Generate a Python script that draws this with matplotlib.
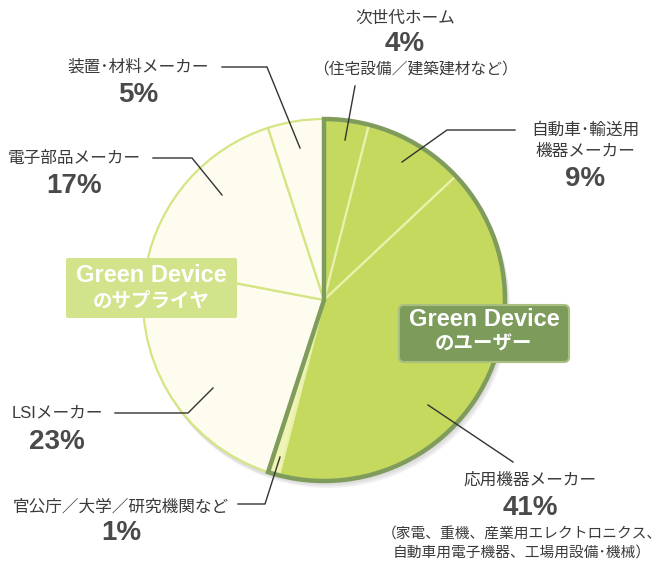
import matplotlib.pyplot as plt
from matplotlib.patches import Wedge, Circle, FancyBboxPatch

# shares (%), clockwise from 12 o'clock
names = ["次世代ホーム", "自動車･輸送用\n機器メーカー", "応用機器メーカー",
         "官公庁／大学／研究機関など", "LSIメーカー", "電子部品メーカー", "装置･材料メーカー"]
values = [4, 9, 41, 1, 23, 17, 5]
notes = ["（住宅設備／建築建材など）", "", "（家電、重機、産業用エレクトロニクス、\n自動車用電子機器、工場用設備･機械）",
         "", "", "", ""]
n_users = 4  # first four slices sit inside the "user" outline

W, H = 666, 567
fig = plt.figure(figsize=(W / 100, H / 100), dpi=100)
ax = fig.add_axes([0, 0, 1, 1])

def py(y):
    return H - y

cx, cy, r = 324, py(300), 181
green = "#c4d95e"
cream = "#fefcef"
slice_colors = [green, green, green, "#eff3b4", cream, cream, cream]
edge_colors = ["#e9f1ad", "#e9f1ad", "#e9f1ad", "#e9f1ad", "#d6e483", "#d6e483", "#d6e483"]

# soft shadow
for i, a in enumerate([0.10, 0.10, 0.10]):
    ax.add_patch(Circle((cx + 2 + i, cy - 3 - i * 1.5), r + 1, color="#888888", alpha=a, lw=0, zorder=0))

wedges, _ = ax.pie(values, colors=slice_colors, startangle=90, counterclock=False,
                   center=(cx, cy), radius=r,
                   wedgeprops=dict(linewidth=1.6))
for w, ec in zip(wedges, edge_colors):
    w.set_edgecolor(ec)
    w.set_zorder(1)

# outline around the user group
ax.add_patch(Wedge((cx, cy), r, wedges[n_users - 1].theta1, wedges[0].theta2,
                   fill=False, ec="#7f9c5c", lw=3.2, joinstyle="miter", zorder=3))

ax.set_xlim(0, W)
ax.set_ylim(0, H)
ax.set_aspect("equal")
ax.axis("off")

jp = ["Liberation Sans", "Noto Sans CJK JP"]
lab_c = "#3a3a3a"
pct_c = "#4a4a4a"

# (label x, label y, pct y, note y) in pixels
pos = [
    (405, 18, 44, 69),
    (585, 141, 179, None),
    (530, 480, 508, 544),
    (121, 507, 533, None),
    (57, 413, 442, None),
    (74, 158, 186, None),
    (138, 67, 95, None),
]
for name, v, note, (x, ly, pyy, ny) in zip(names, values, notes, pos):
    ax.text(x, py(ly), name, family=jp, fontsize=12, color=lab_c,
            ha="center", va="center", linespacing=1.5)
    ax.text(x, py(pyy), f"{v}%", family="Liberation Sans", fontsize=20,
            weight="bold", color=pct_c, ha="center", va="center")
    if note:
        multi = "\n" in note
        ax.text(x - 8 if multi else x + 10, py(ny), note, family=jp,
                fontsize=10.6 if multi else 11.3,
                color=lab_c, ha="center", va="center", linespacing=1.5)

# leader lines
leaders = [
    [(355, 86), (345, 140)],
    [(515, 130), (447, 130), (402, 162)],
    [(513, 462), (428, 405)],
    [(238, 504), (265, 504), (280, 457)],
    [(115, 413), (188, 413), (213, 388)],
    [(153, 158), (192, 158), (222, 195)],
    [(222, 67), (267, 67), (300, 148)],
]
for pts in leaders:
    ax.plot([p[0] for p in pts], [py(p[1]) for p in pts], color="#333333", lw=1, zorder=4)

# group boxes
ax.add_patch(FancyBboxPatch((399, py(362)), 170, 57, boxstyle="round,pad=0,rounding_size=5",
                            fc="#7d9b5b", ec="#a8bf80", lw=1.5, zorder=5))
ax.text(484, py(319), "Green Device", family="Liberation Sans", weight="bold",
        fontsize=17, color="white", ha="center", va="center", zorder=6)
ax.text(484, py(345), "のユーザー", family=jp, weight="bold",
        fontsize=14, color="white", ha="center", va="center", zorder=6)

ax.add_patch(FancyBboxPatch((66, py(318)), 171, 60, boxstyle="round,pad=0,rounding_size=2",
                            fc="#d1e38b", ec="none", zorder=5))
ax.text(151, py(276), "Green Device", family="Liberation Sans", weight="bold",
        fontsize=17, color="white", ha="center", va="center", zorder=6)
ax.text(151, py(301), "のサプライヤ", family=jp, weight="bold",
        fontsize=14, color="white", ha="center", va="center", zorder=6)

fig.savefig("out.png", dpi=100)
